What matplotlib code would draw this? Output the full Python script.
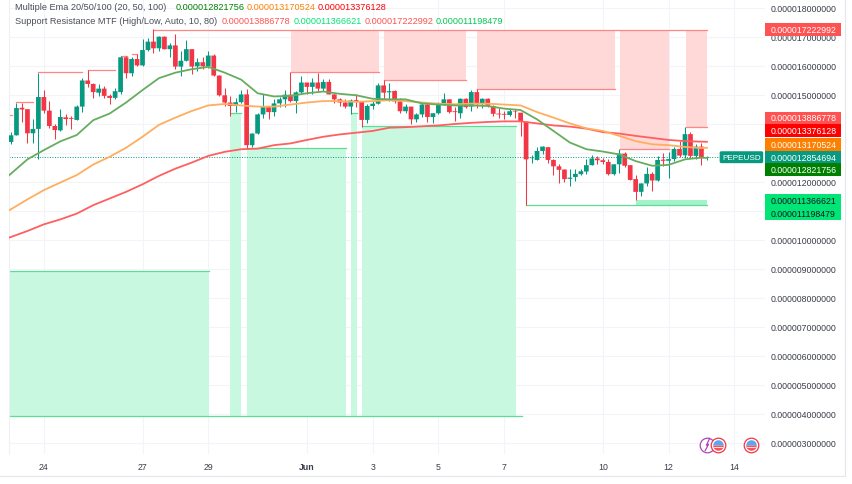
import matplotlib
matplotlib.use("Agg")
import matplotlib.pyplot as plt
from matplotlib.patches import Rectangle
from matplotlib.lines import Line2D

plt.rcParams['font.family'] = ['Liberation Sans', 'DejaVu Sans']

# prices in units of 1e-6, 4h bars
open_ = [13.37,13.60,14.55,14.50,13.67,13.82,14.92,14.45,13.92,13.77,
14.22,14.20,14.13,14.59,15.49,15.37,15.07,15.21,14.96,14.89,
15.09,16.29,15.74,16.23,16.01,16.54,16.83,16.60,17.00,16.57,
16.70,15.97,16.17,16.57,15.98,16.12,15.98,16.35,15.66,14.98,
14.73,14.61,14.74,15.01,13.26,13.66,14.32,14.57,14.40,14.70,
14.84,15.00,14.78,15.08,15.42,15.27,15.42,15.21,15.44,15.01,
14.84,14.73,14.59,14.81,14.78,14.13,14.61,14.69,15.32,15.08,
15.13,14.77,14.43,14.59,14.15,14.32,14.66,14.23,14.36,14.66,
14.84,14.43,14.36,14.86,14.59,15.09,14.70,14.86,14.61,14.35,
14.34,14.30,14.44,14.38,14.07,12.81,12.75,13.06,13.19,12.75,
12.53,12.42,12.10,12.16,12.26,12.35,12.57,12.80,12.74,12.68,
12.26,12.60,12.97,12.57,12.09,11.65,11.94,12.27,12.04,12.76,
12.72,12.78,13.13,12.91,13.64,12.89,13.21,12.82]
close = [13.60,14.54,14.49,13.67,13.82,14.92,14.45,13.92,13.78,14.23,
14.16,14.17,14.59,15.49,15.37,15.09,15.21,14.96,14.89,15.12,
16.29,15.74,16.23,16.01,16.54,16.83,16.60,17.00,16.57,16.70,
15.97,16.17,16.57,15.97,16.12,15.98,16.35,15.66,14.98,14.73,
14.61,14.74,15.01,13.26,13.66,14.32,14.57,14.40,14.70,14.84,
15.00,14.78,15.08,15.42,15.27,15.42,15.21,15.44,15.01,14.84,
14.73,14.59,14.80,14.78,14.13,14.61,14.69,15.32,15.07,15.12,
14.77,14.43,14.59,14.15,14.32,14.66,14.23,14.36,14.66,14.84,
14.40,14.40,14.86,14.57,15.09,14.68,14.86,14.61,14.34,14.32,
14.31,14.43,14.42,14.09,12.77,12.83,13.06,13.21,12.75,12.53,
12.41,12.09,12.14,12.27,12.36,12.57,12.80,12.74,12.68,12.26,
12.60,12.97,12.55,12.06,11.65,11.94,12.27,12.04,12.75,12.72,
12.78,13.13,12.90,13.64,12.89,13.21,12.81,12.85]
high = [13.72,14.73,14.70,14.50,14.15,15.76,15.15,14.78,13.98,14.50,
14.35,14.27,14.63,15.59,15.85,15.42,15.36,15.30,15.01,15.24,
16.34,16.34,16.31,16.39,16.91,16.97,17.26,17.03,17.03,16.77,
17.08,16.51,16.89,16.57,16.28,16.31,16.51,16.39,15.67,15.24,
14.96,14.90,15.16,15.19,13.69,14.38,15.01,14.57,14.84,14.93,
15.16,15.78,15.13,15.65,15.42,15.59,15.74,15.53,15.53,15.01,
14.90,14.84,14.84,15.01,14.78,14.67,14.78,15.42,15.50,15.39,
15.16,14.90,14.67,14.59,14.38,14.73,14.73,14.38,14.75,15.05,
14.86,14.59,14.89,14.89,15.16,15.21,14.90,14.90,14.63,14.55,
14.44,14.52,14.50,14.38,14.07,12.91,13.18,13.24,13.21,12.78,
12.60,12.43,12.43,12.43,12.43,12.78,12.93,12.89,12.83,12.78,
12.60,13.12,13.01,12.57,12.22,11.97,12.52,12.32,12.89,12.98,
13.01,13.21,13.41,13.90,13.72,13.29,13.33,12.89]
low = [13.30,13.60,14.06,13.35,13.35,12.80,14.38,13.86,13.46,13.75,
13.94,13.81,14.13,14.40,15.27,14.90,14.96,14.90,14.67,14.84,
15.01,15.59,15.65,15.99,15.99,16.51,16.45,16.51,16.57,16.31,
15.88,15.65,16.16,15.70,15.82,15.88,15.93,15.65,14.96,14.61,
14.27,14.40,14.73,13.17,13.21,13.63,14.21,14.17,14.27,14.59,
14.59,14.75,14.38,15.05,15.01,15.01,15.13,15.13,15.01,14.73,
14.61,14.55,14.32,14.59,13.90,14.04,14.50,14.67,14.84,14.78,
14.73,14.38,14.38,14.00,14.07,14.24,14.06,14.04,14.32,14.63,
14.36,14.09,14.21,14.55,14.44,14.55,14.55,14.59,14.27,14.21,
14.17,14.27,14.19,13.58,11.20,12.66,12.75,12.95,12.64,12.22,
11.97,12.00,11.86,12.03,12.24,12.26,12.57,12.60,12.60,12.22,
12.22,12.29,12.51,12.06,11.36,11.49,11.86,11.68,12.03,12.55,
12.12,12.72,12.86,12.83,12.83,12.80,12.57,12.75]

ema_bars = [-0.36,3,6,9,12,15,18,21,24,27,30,33,36,39,42,45,48,
            51,54,57,60,63,66,69,72,75,78,81,84,87,90,93,
            96,99,102,105,108,111,114,117,120,123,126,127]
ema20 = [12.22,12.77,13.09,13.39,13.61,14.12,14.35,14.73,15.16,15.57,15.76,15.88,15.96,15.76,15.52,15.05,14.94,
         14.96,15.05,15.11,15.03,14.98,14.86,14.84,14.84,14.70,14.66,14.63,14.63,14.61,14.52,14.47,
         14.15,13.75,13.35,13.12,13.04,12.94,12.71,12.55,12.58,12.77,12.83,12.82]
ema50 = [11.01,11.39,11.71,11.97,12.23,12.59,12.86,13.17,13.55,13.96,14.21,14.44,14.63,14.68,14.63,14.59,14.59,
         14.66,14.73,14.78,14.78,14.75,14.78,14.81,14.78,14.73,14.69,14.67,14.69,14.69,14.66,14.63,
         14.40,14.21,14.01,13.84,13.75,13.58,13.40,13.29,13.26,13.20,13.16,13.17]
ema100 = [10.07,10.30,10.53,10.70,10.90,11.19,11.42,11.65,11.91,12.20,12.45,12.66,12.89,13.03,13.12,13.14,13.26,
          13.32,13.44,13.55,13.63,13.69,13.75,13.86,13.88,13.91,13.94,13.99,14.03,14.06,14.08,14.08,
          14.01,13.94,13.90,13.83,13.71,13.66,13.58,13.51,13.44,13.40,13.38,13.376]

# support zones: start bar, end bar, top price
support_start = [-0.36,40,43,62,64]
support_end = [36.1,42,61.1,63.1,92.15]
support_top = [8.92,14.37,13.15,14.37,13.91]
support_bottom = 3.92
support_line_end = 93.3
# resistance zones: start bar, end bar, bottom price
resist_start = [51.1,68.1,85,111.1,123.2]
resist_end = [67.2,83,110.2,120.1,127]
resist_bottom = [15.79,15.51,15.21,13.13,13.89]
resist_top = 17.22
# earlier resistance steps: start, end, price
step_start = [-0.36,1,5,14,20,22,26]
step_end = [0.2,4,13,19,21.2,23,127]
step_price = [14.30,14.74,15.77,15.86,16.34,16.40,17.22]

sup_low_a = 11.198479
sup_low_b = 11.366621
last_price = 12.854694

day_bars = [6,24,36,54,66,78,90,108,120,132]
day_labels = ['24','27','29','Jun','3','5','7','10','12','14']
price_ticks = list(range(3,19))
covered_ticks = [13,14]

# scale labels: text, value position, face
tag_text = ['0.000017222992','0.000013886778','0.000013376128','0.000013170524','0.000012854694','0.000012821756']
tag_pos = [17.238,14.197,13.755,13.29,12.84,12.41]
tag_face = ['#FF5252','#FF5252','#FF0000','#FF7F00','#089981','#008000']
tag_green_text = ['0.000011366621','0.000011198479']
tag_green_pos = [11.345,10.91]

W, H = 852, 485
fig = plt.figure(figsize=(W/100, H/100), dpi=100, facecolor='white')
L, R, B, T = 9, 765, 455, 0
ax = fig.add_axes([L/W, 1-B/H, (R-L)/W, (B-T)/H])
ax.set_xlim(-0.365, 137.6)
ax.set_ylim(18+8.7/29-455/29, 18+8.7/29)
for s in ax.spines.values():
    s.set_visible(False)
ax.spines['left'].set_visible(True)
ax.spines['left'].set_color('#EEF0F5')
ax.spines['left'].set_linewidth(0.8)

GRID = '#F2F4F9'
ax.set_axisbelow(True)
ax.grid(True, color=GRID, lw=0.8)
ax.yaxis.tick_right()
ax.set_yticks(price_ticks)
ax.set_yticklabels(['' if p in covered_ticks else '0.%012d' % (p*1000000) for p in price_ticks],
                   fontsize=6.35, color='#3A3E49')
ax.set_xticks(day_bars)
ax.set_xticklabels(day_labels, fontsize=6.35, color='#3A3E49')
ax.get_xticklabels()[3].set_fontweight('bold')
ax.tick_params(axis='y', length=0, pad=4.2)
ax.tick_params(axis='x', length=0, pad=5.5)

G_FILL, R_FILL = '#C9F8E0', '#FFD8D8'
G_LINE, R_LINE = '#5BDD97', '#FF8686'
for s, e, t in zip(support_start, support_end, support_top):
    ax.fill_between([s, e], support_bottom, t, color=G_FILL, lw=0, zorder=1)
    ax.plot([s, e], [t, t], color=G_LINE, lw=0.9, zorder=2)
ax.plot([-0.36, support_line_end], [support_bottom]*2, color=G_LINE, lw=0.9, zorder=2)
for s, e, b in zip(resist_start, resist_end, resist_bottom):
    ax.fill_between([s, e], b, resist_top, color=R_FILL, lw=0, zorder=1)
    ax.plot([s, e], [b, b], color=R_LINE, lw=0.9, zorder=2)
for s, e, p in zip(step_start, step_end, step_price):
    ax.plot([s, e], [p, p], color=R_LINE, lw=0.9, zorder=2)
ax.fill_between([114, 127], sup_low_a, sup_low_b, color='#A3F2C9', lw=0, zorder=1)
ax.plot([94, 127], [sup_low_a]*2, color=G_LINE, lw=0.9, zorder=2)

ax.plot([-0.36, 133], [last_price]*2, color='#089981', lw=0.7, ls=(0, (1, 1.6)), zorder=2)

UP, DN = '#089981', '#F23645'
for i, (o, h, l, c) in enumerate(zip(open_, high, low, close)):
    col = UP if c >= o else DN
    ax.plot([i, i], [l, h], color=col, lw=0.75, zorder=3, solid_capstyle='butt')
    ax.bar(i, abs(c-o), bottom=min(o, c), width=0.86, color=col, lw=0, zorder=3, snap=False)

ax.plot(ema_bars, ema100, color='#FF5F5F', lw=1.3, zorder=4)
ax.plot(ema_bars, ema50, color='#FFAE5E', lw=1.3, zorder=4)
ax.plot(ema_bars, ema20, color='#66AD5F', lw=1.3, zorder=4)

# price scale labels
tr = ax.get_yaxis_transform()
box_w = 76/(R-L)
box_h = 12.7/29
tx = 1 + 5.5/(R-L)
for t, p, f in zip(tag_text, tag_pos, tag_face):
    ax.add_patch(Rectangle((1, p-box_h/2), box_w, box_h, transform=tr, fc=f, ec='none', zorder=10, clip_on=False))
    ax.text(tx, p, t, transform=tr, color='white', fontsize=6.35, va='center', ha='left', zorder=11, clip_on=False)
ax.add_patch(Rectangle((1, tag_green_pos[1]-box_h/2), box_w, tag_green_pos[0]-tag_green_pos[1]+box_h,
                       transform=tr, fc='#00E676', ec='none', zorder=10, clip_on=False))
for t, p in zip(tag_green_text, tag_green_pos):
    ax.text(tx, p, t, transform=tr, color='#131722', fontsize=6.35, va='center', ha='left', zorder=11, clip_on=False)

ax.text(133.3, last_price-0.01, 'PEPEUSD', color='white', fontsize=5.9, ha='center', va='center', zorder=12,
        bbox=dict(boxstyle='round,pad=0.3,rounding_size=0.2', fc='#089981', ec='none'))

# event icons
ic_p = 2.93
ax.plot(127.06, ic_p, 'o', ms=10.5, mfc='white', mec='#AB47BC', mew=0.9, zorder=6)
ax.plot([126.7, 127.3, 126.9, 127.5], [ic_p-0.2, ic_p+0.02, ic_p-0.02, ic_p+0.22], color='#AB47BC', lw=0.9, zorder=7)
for b in (129.07, 135.1):
    ax.plot(b, ic_p, 'o', ms=10.5, mfc='white', mec='#F23645', mew=0.9, zorder=8)
    ax.plot(b, ic_p, 'o', ms=7.6, fillstyle='top', mfc='#5AA9F0', mfcalt='#F7525F', mew=0, zorder=9)
    ax.plot([b-0.75, b+0.75], [ic_p-0.08]*2, color='white', lw=0.6, zorder=9)

# legend
TXT = '#4A4E59'
def ft(px, py, s, color, **kw):
    fig.text(px/W, 1-py/H, s, color=color, fontsize=6.62, va='center', ha='left', **kw)
ft(15, 7.8, 'Multiple Ema 20/50/100 (20, 50, 100)', TXT)
ft(175.5, 7.8, '0.000012821756', '#008000')
ft(247, 7.8, '0.000013170524', '#FF8000')
ft(317.7, 7.8, '0.000013376128', '#FF0000')
ft(15, 21, 'Support Resistance MTF (High/Low, Auto, 10, 80)', TXT)
ft(221.7, 21, '0.000013886778', '#FF5252')
ft(293.3, 21, '0.000011366621', '#00E676')
ft(364.7, 21, '0.000017222992', '#FF5252')
ft(436, 21, '0.000011198479', '#00C853')

# frame lines
fig.add_artist(Line2D([844.5/W, 844.5/W], [1-476/H, 1], color='#E4E6EC', lw=0.8))
fig.add_artist(Line2D([0, 844.5/W], [1-476.5/H, 1-476.5/H], color='#E4E6EC', lw=0.8))

fig.savefig('out.png', dpi=100, facecolor='white')
